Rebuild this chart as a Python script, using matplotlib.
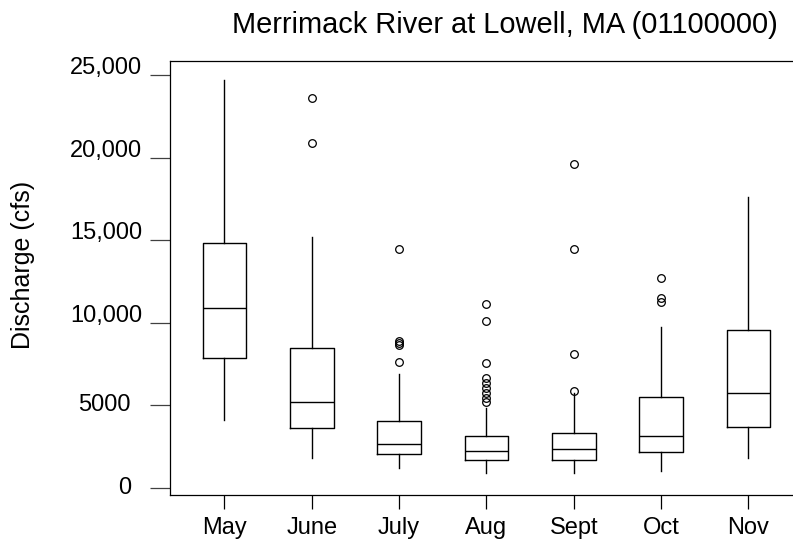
import matplotlib
matplotlib.use("Agg")
import matplotlib.pyplot as plt
import matplotlib.transforms as mtransforms

plt.rcParams['font.family'] = ['Liberation Sans', 'DejaVu Sans']

months = ["May", "June", "July", "Aug", "Sept", "Oct", "Nov"]
whislo = [4100, 1820, 1180, 910, 910, 1030, 1820]
q1 = [7880, 3600, 2020, 1680, 1680, 2150, 3660]
med = [10910, 5210, 2630, 2220, 2350, 3130, 5720]
q3 = [14810, 8450, 4040, 3130, 3330, 5520, 9560]
whishi = [24710, 15180, 6870, 4810, 5740, 9760, 17640]
fliers = [
    [],
    [23640, 20910],
    [14470, 8900, 8780, 8650, 7600],
    [11130, 10120, 7580, 6630, 6330, 6020, 5720, 5460, 5210],
    [19600, 14470, 8100, 5880],
    [12730, 11520, 11270],
    [],
]
yticks = [0, 5000, 10000, 15000, 20000, 25000]
yticklabels = ["0", "5000", "10,000", "15,000", "20,000", "25,000"]
title = "Merrimack River at Lowell, MA (01100000)"
ylabel = "Discharge (cfs)"

W, H, DPI = 793, 540, 100
fig = plt.figure(figsize=(W / DPI, H / DPI), dpi=DPI)
fs = 17

# axes in pixels: left 170, top 61, bottom 495, right beyond figure
left_px, top_px, bot_px, right_px = 170, 61, 495, 840
ax = fig.add_axes([left_px / W, 1 - bot_px / H, (right_px - left_px) / W, (bot_px - top_px) / H])

stats = []
for i, m in enumerate(months):
    stats.append(dict(label=m, whislo=whislo[i], q1=q1[i], med=med[i], q3=q3[i],
                      whishi=whishi[i], fliers=fliers[i]))

lw = 1.0
ax.bxp(stats, positions=range(1, len(months) + 1), widths=0.5, showcaps=False,
       boxprops=dict(color="black", linewidth=lw),
       whiskerprops=dict(color="black", linewidth=lw),
       medianprops=dict(color="black", linewidth=lw),
       flierprops=dict(marker="o", markersize=5.5, markerfacecolor="none",
                       markeredgecolor="black", markeredgewidth=0.9))

px_per_unit = 87.33
x0_px = 137.1
ax.set_xlim((left_px - x0_px) / px_per_unit, (right_px - x0_px) / px_per_unit)
ypx_per_val = 0.016508
zero_px = 487.8
ax.set_ylim((zero_px - bot_px) / ypx_per_val, (zero_px - top_px) / ypx_per_val)

for s in ["left", "top", "bottom"]:
    ax.spines[s].set_linewidth(0.9)
    ax.spines[s].set_color("black")
ax.spines["right"].set_visible(False)

ax.tick_params(axis="x", direction="out", length=10, width=0.9, pad=6,
               labelsize=fs, color="black")
ax.set_xticks(range(1, len(months) + 1))
ax.set_xticklabels(months)

ax.set_yticks(yticks)
ax.set_yticklabels([""] * len(yticks))
ax.tick_params(axis="y", direction="out", length=14.4, width=0.9, color="#404040")

# y tick labels placed as real text (the original has comma labels shifted)
trans = mtransforms.blended_transform_factory(fig.transFigure, ax.transData)
for v, lab in zip(yticks, yticklabels):
    if "," in lab:
        xr, dy = 142, 7
    else:
        xr, dy = 131, 0
    t = trans + mtransforms.ScaledTranslation(0, dy / DPI, fig.dpi_scale_trans)
    ax.text(xr / W, v, lab, transform=t, ha="right", va="center", fontsize=fs,
            clip_on=False)

fig.text(504.5 / W, 1 - 25 / H, title, ha="center", va="center", fontsize=20.9)
fig.text(23 / W, 1 - 265 / H, ylabel, ha="center", va="center", rotation=90,
         fontsize=18)

fig.savefig("out.png", dpi=DPI)
